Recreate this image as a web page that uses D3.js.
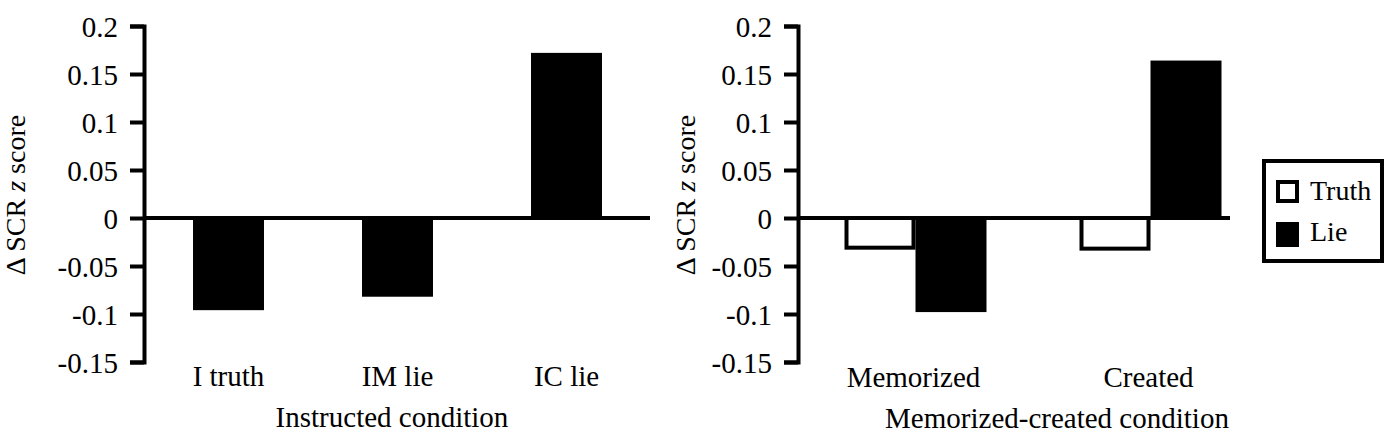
<!DOCTYPE html>
<html>
<head>
<meta charset="utf-8">
<script src="https://cdn.jsdelivr.net/npm/d3@7"></script>
<style>
  body { margin: 0; background: #fff; }
  svg text { font-family: "Liberation Serif", "Tinos", "Times New Roman", "DejaVu Serif", serif !important; fill: #000; }
  .axis path, .axis line { stroke: #000; stroke-width: 4; }
  .axis text { font-size: 29px; }
</style>
</head>
<body>
<div id="chart"></div>
<script>
// data
var instrCats = ["I truth", "IM lie", "IC lie"];
var instrVals = [-0.096, -0.082, 0.172];
var memCats = ["Memorized", "Created"];
var memSeries = ["Truth", "Lie"];
var memTruth = [-0.033, -0.034];
var memLie = [-0.098, 0.164];
var yTicks = [0.2, 0.15, 0.1, 0.05, 0, -0.05, -0.1, -0.15];

var serif = '"Liberation Serif", "Tinos", "Times New Roman", "DejaVu Serif", serif';
var fs = "29px";
var w = 1390, h = 442;
var svg = d3.select("#chart").append("svg")
  .attr("width", w)
  .attr("height", h)
  .attr("font-family", serif);

var yDomain = [-0.15, 0.2];

function yAxisFor(y, x0) {
  svg.append("g")
    .attr("class", "axis")
    .attr("transform", "translate(" + x0 + ",0)")
    .call(d3.axisLeft(y)
      .tickValues(yTicks)
      .tickFormat(function(d){ return String(d); })
      .tickSize(14)
      .tickPadding(12))
    .attr("font-family", serif)
    .call(function(g){ g.selectAll("text").attr("dy", "0.35em").style("font-family", serif); });
}

function yTitle(x) {
  var t = svg.append("text")
    .attr("transform", "translate(" + x + ",195) rotate(-90)")
    .attr("text-anchor", "middle")
    .style("font-family", serif)
    .style("font-size", "28px");
  t.append("tspan").text("\u0394 SCR ");
  t.append("tspan").style("font-style", "italic").text("z");
  t.append("tspan").text(" score");
}

// ---- left panel: instructed condition ----
var y1 = d3.scaleLinear().domain(yDomain).range([362, 26]);
var x1 = d3.scaleBand().domain(instrCats).range([144, 651])
  .paddingInner(0.58).paddingOuter(0.29);

svg.append("g").selectAll("rect")
  .data(instrCats)
  .enter().append("rect")
  .attr("x", function(d){ return x1(d); })
  .attr("width", x1.bandwidth())
  .attr("y", function(d, i){ return y1(Math.max(0, instrVals[i])); })
  .attr("height", function(d, i){ return Math.abs(y1(instrVals[i]) - y1(0)); })
  .attr("fill", "#000");

yAxisFor(y1, 144);
svg.append("line")
  .attr("x1", 144).attr("x2", 650)
  .attr("y1", y1(0)).attr("y2", y1(0))
  .attr("stroke", "#000").attr("stroke-width", 4);

svg.selectAll(".cat1")
  .data(instrCats)
  .enter().append("text")
  .attr("class", "cat1")
  .attr("x", function(d){ return x1(d) + x1.bandwidth()/2; })
  .attr("y", 386)
  .attr("text-anchor", "middle")
  .style("font-family", serif)
  .style("font-size", fs)
  .text(function(d){ return d; });

svg.append("text")
  .attr("x", 392).attr("y", 427)
  .attr("text-anchor", "middle")
  .style("font-family", serif)
  .style("font-size", fs)
  .text("Instructed condition");

yTitle(25);

// ---- right panel: memorized-created condition ----
var y2 = d3.scaleLinear().domain(yDomain).range([362, 26]);
var x2 = d3.scaleBand().domain(memCats).range([798, 1268]).padding(0);
var xs = d3.scaleBand().domain(memSeries).range([0, x2.bandwidth()])
  .paddingInner(0).paddingOuter(0.655);

var groups = svg.append("g").selectAll("g")
  .data(memCats)
  .enter().append("g")
  .attr("transform", function(d){ return "translate(" + x2(d) + ",0)"; });

// lie bars first so the truth outline sits on top at the shared edge
groups.append("rect")
  .attr("x", xs("Lie"))
  .attr("width", xs.bandwidth())
  .attr("y", function(d, i){ return y2(Math.max(0, memLie[i])); })
  .attr("height", function(d, i){ return Math.abs(y2(memLie[i]) - y2(0)); })
  .attr("fill", "#000");

groups.append("rect")
  .attr("x", xs("Truth") + 2)
  .attr("width", xs.bandwidth() - 4)
  .attr("y", function(d, i){ return y2(Math.max(0, memTruth[i])); })
  .attr("height", function(d, i){ return Math.abs(y2(memTruth[i]) - y2(0)) - 2; })
  .attr("fill", "#fff")
  .attr("stroke", "#000")
  .attr("stroke-width", 4);

yAxisFor(y2, 798);
svg.append("line")
  .attr("x1", 798).attr("x2", 1230)
  .attr("y1", y2(0)).attr("y2", y2(0))
  .attr("stroke", "#000").attr("stroke-width", 4);

svg.selectAll(".cat2")
  .data(memCats)
  .enter().append("text")
  .attr("class", "cat2")
  .attr("x", function(d){ return x2(d) + x2.bandwidth()/2 - 2; })
  .attr("y", 387)
  .attr("text-anchor", "middle")
  .style("font-family", serif)
  .style("font-size", fs)
  .text(function(d){ return d; });

svg.append("text")
  .attr("x", 1057).attr("y", 428)
  .attr("text-anchor", "middle")
  .style("font-family", serif)
  .style("font-size", fs)
  .text("Memorized-created condition");

yTitle(695);

// ---- legend ----
var legend = svg.append("g").attr("transform", "translate(1264,161)");
legend.append("rect")
  .attr("width", 118).attr("height", 100)
  .attr("fill", "#fff").attr("stroke", "#000").attr("stroke-width", 4);
var li = legend.selectAll(".item")
  .data(memSeries)
  .enter().append("g")
  .attr("class", "item")
  .attr("transform", function(d, i){ return "translate(0," + (i * 41) + ")"; });
li.append("rect")
  .attr("x", function(d){ return d === "Truth" ? 14 : 12; })
  .attr("y", function(d){ return d === "Truth" ? 21 : 20; })
  .attr("width", function(d){ return d === "Truth" ? 19 : 23; })
  .attr("height", function(d){ return d === "Truth" ? 19 : 25; })
  .attr("fill", function(d){ return d === "Truth" ? "#fff" : "#000"; })
  .attr("stroke", function(d){ return d === "Truth" ? "#000" : "none"; })
  .attr("stroke-width", 4);
li.append("text")
  .attr("x", 46).attr("y", 39)
  .style("font-family", serif)
  .style("font-size", "28px")
  .text(function(d){ return d; });
</script>
</body>
</html>
